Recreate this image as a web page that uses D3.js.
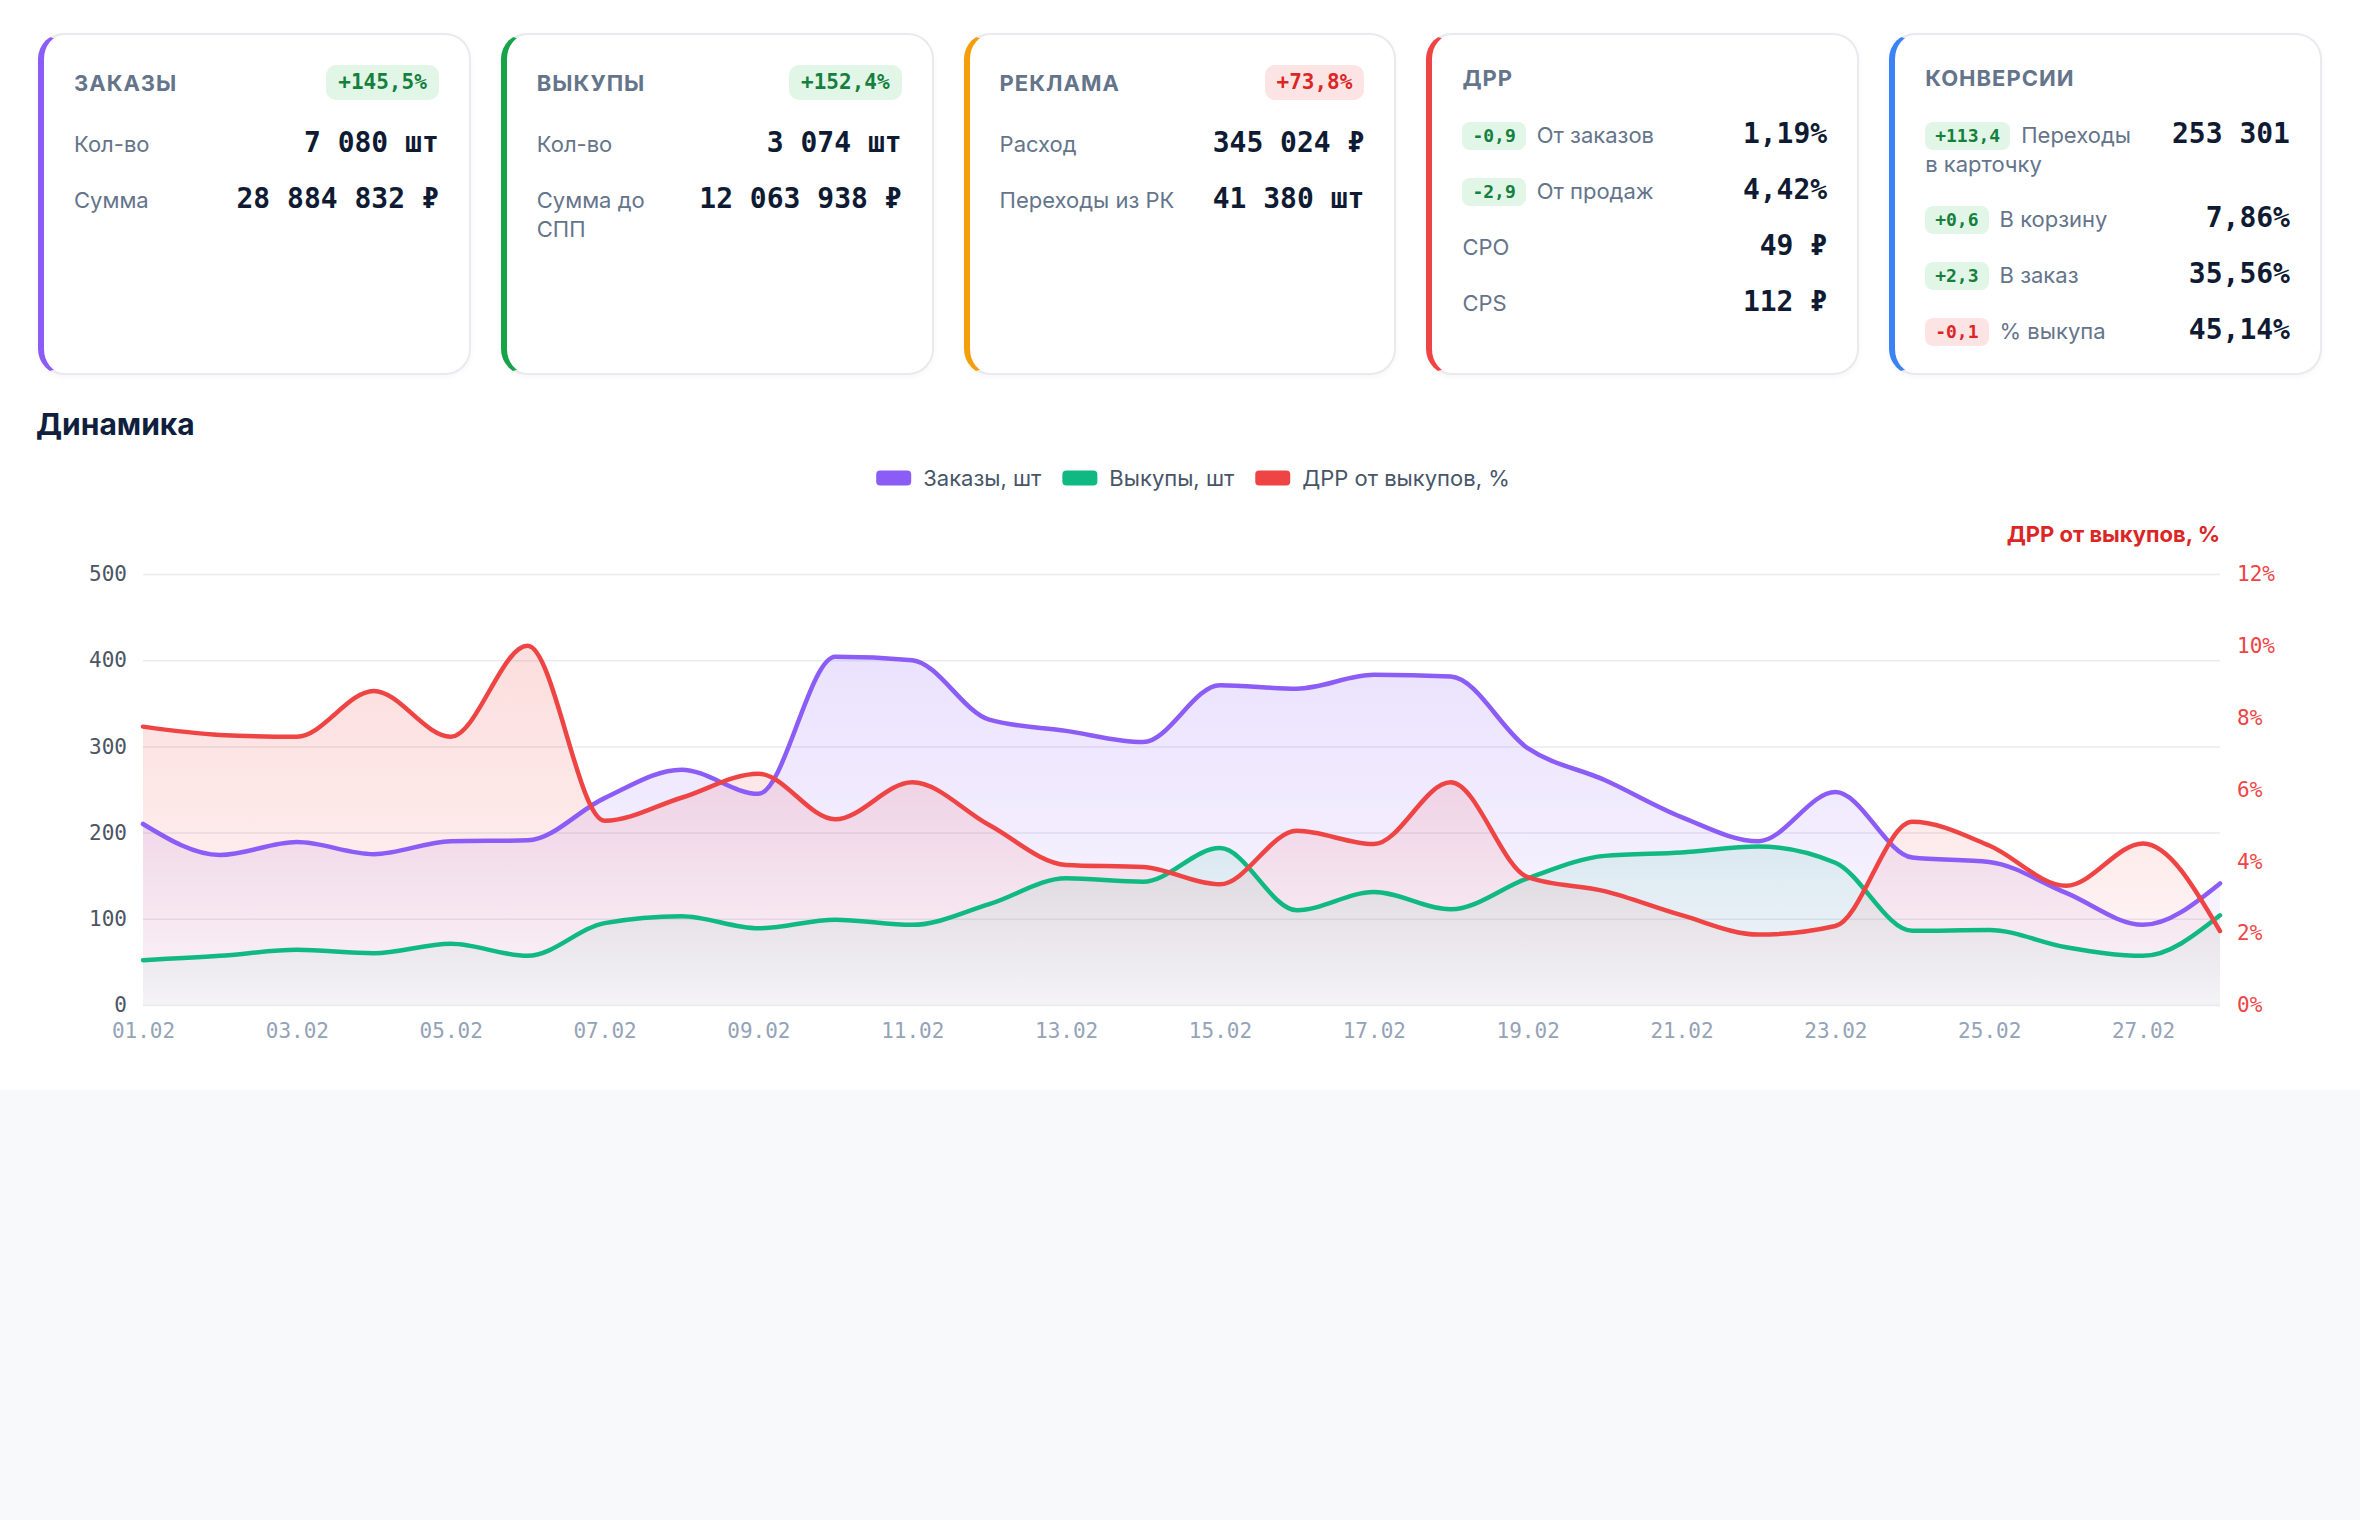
<!DOCTYPE html>
<html>
<head>
<meta charset="utf-8">
<title>Дашборд</title>
<script src="https://d3js.org/d3.v7.min.js"></script>
<style>
  body { margin: 0; background: #f8f9fb; font-family: Inter, "Noto Sans", sans-serif; }
  .page { position: relative; height: 1090px; background: #fff; }
  #cards { position: absolute; top: 33px; left: 38px; right: 38px; height: 342px; display: flex; gap: 30px; }
  .card {
    flex: 1; box-sizing: border-box; background: #fff;
    border: 2px solid #e8eaee; border-left: 6px solid #ccc; border-radius: 26px;
    padding: 30px 30px 28px 30px; box-shadow: 0 2px 6px rgba(15,23,42,0.04);
  }
  .head { display: flex; justify-content: space-between; align-items: center; margin-bottom: 26px; }
  .title { font-weight: 700; font-size: 22px; letter-spacing: 1px; color: #64748b; line-height: 26px; }
  .badge { font-family: "DejaVu Sans Mono", monospace; font-weight: 700; border-radius: 10px; white-space: nowrap; }
  .head .badge { font-size: 21px; line-height: 25px; padding: 5px 12px; }
  .row .badge { display: inline-block; font-size: 18px; line-height: 24px; padding: 2px 10px; border-radius: 8px; margin-right: 11px; vertical-align: 1px; }
  .good { background: #e2f6e8; color: #15803d; }
  .bad { background: #fde4e4; color: #dc2626; }
  .row { display: flex; justify-content: space-between; align-items: baseline; gap: 30px; margin-bottom: 22px; }
  .label { font-size: 22px; line-height: 29px; color: #64748b; }
  .value { font-family: "DejaVu Sans Mono", monospace; font-weight: 700; font-size: 28px; line-height: 34px; color: #0f1b33; white-space: nowrap; }
  .heading { position: absolute; margin: 0; left: 36px; top: 407px; font-size: 30px; line-height: 34px; font-weight: 700; color: #0f1f3d; }
  #chart { position: absolute; left: 0; top: 440px; }
  .tick text { font-family: "DejaVu Sans Mono", monospace; font-size: 21px; }
</style>
</head>
<body>
<div class="page">
  <div id="cards"></div>
  <h2 class="heading">Динамика</h2>
  <svg id="chart" width="2360" height="650"></svg>
</div>
<script>
// cards
const cardTitles = ["ЗАКАЗЫ", "ВЫКУПЫ", "РЕКЛАМА", "ДРР", "КОНВЕРСИИ"];
const cardColors = ["#8b5cf6", "#16a34a", "#f59e0b", "#ef4444", "#3b82f6"];
const cardBadges = [["+145,5%", "good"], ["+152,4%", "good"], ["+73,8%", "bad"], null, null];
// [label, value, badge, tone]
const cardRows = [
  [["Кол-во", "7 080 шт"], ["Сумма", "28 884 832 ₽"]],
  [["Кол-во", "3 074 шт"], ["Сумма до СПП", "12 063 938 ₽"]],
  [["Расход", "345 024 ₽"], ["Переходы из РК", "41 380 шт"]],
  [["От заказов", "1,19%", "-0,9", "good"], ["От продаж", "4,42%", "-2,9", "good"], ["CPO", "49 ₽"], ["CPS", "112 ₽"]],
  [["Переходы в карточку", "253 301", "+113,4", "good"], ["В корзину", "7,86%", "+0,6", "good"],
   ["В заказ", "35,56%", "+2,3", "good"], ["% выкупа", "45,14%", "-0,1", "bad"]]
];

// chart
const days = ["01.02","02.02","03.02","04.02","05.02","06.02","07.02","08.02","09.02","10.02",
              "11.02","12.02","13.02","14.02","15.02","16.02","17.02","18.02","19.02","20.02",
              "21.02","22.02","23.02","24.02","25.02","26.02","27.02","28.02"];
const orders  = [210,174,189,175,190,191,240,273,245,404,400,331,318,305,371,367,383,381,298,261,218,190,247,171,166,130,93,141];
const buyouts = [52,57,64,60,71,57,95,103,89,99,93,117,147,143,182,110,131,111,147,173,177,184,165,86,87,67,57,104];
const drr     = [7.75,7.52,7.47,8.74,7.47,10.0,5.13,5.77,6.44,5.17,6.2,5.01,3.9,3.84,3.36,4.85,4.48,6.2,3.56,3.17,2.5,1.96,2.2,5.1,4.44,3.32,4.5,2.06];
const seriesNames = ["Заказы, шт", "Выкупы, шт", "ДРР от выкупов, %"];
const seriesColors = ["#8b5cf6", "#10b981", "#ef4444"];
const leftTicks = [0, 100, 200, 300, 400, 500];
const rightTicks = [0, 2, 4, 6, 8, 10, 12];

// ---- cards ----
const cards = d3.select("#cards").selectAll("div.card")
  .data(cardTitles)
  .join("div")
  .attr("class", "card")
  .style("border-left-color", (d, i) => cardColors[i]);

cards.each(function (title, i) {
  const card = d3.select(this);
  const head = card.append("div").attr("class", "head");
  head.append("span").attr("class", "title").text(title);
  if (cardBadges[i]) {
    head.append("span").attr("class", "badge " + cardBadges[i][1]).text(cardBadges[i][0]);
  }
  cardRows[i].forEach(r => {
    const row = card.append("div").attr("class", "row");
    const lab = row.append("span").attr("class", "label");
    if (r[2]) lab.append("span").attr("class", "badge " + r[3]).text(r[2]);
    lab.append("span").text(r[0]);
    row.append("span").attr("class", "value").text(r[1]);
  });
});

// ---- chart ----
const svg = d3.select("#chart");
const plot = { left: 143, right: 2220, top: 134, bottom: 565 };

const x = d3.scalePoint().domain(days).range([plot.left, plot.right]);
const yL = d3.scaleLinear().domain([0, 500]).range([plot.bottom, plot.top]);
const yR = d3.scaleLinear().domain([0, 12]).range([plot.bottom, plot.top]);

// gradients
const defs = svg.append("defs");
seriesColors.forEach((c, i) => {
  const g = defs.append("linearGradient").attr("id", "grad" + i)
    .attr("gradientUnits", "userSpaceOnUse")
    .attr("x1", 0).attr("x2", 0).attr("y1", plot.top).attr("y2", plot.bottom);
  g.append("stop").attr("offset", 0).attr("stop-color", c).attr("stop-opacity", 0.2);
  g.append("stop").attr("offset", 0.5).attr("stop-color", c).attr("stop-opacity", 0.13);
  g.append("stop").attr("offset", 1).attr("stop-color", c).attr("stop-opacity", 0.03);
});

// grid + left axis
const leftAxis = svg.append("g")
  .attr("transform", `translate(${plot.left},0)`)
  .call(d3.axisLeft(yL).tickValues(leftTicks).tickSize(-(plot.right - plot.left)).tickPadding(16));
leftAxis.select(".domain").remove();
leftAxis.selectAll("line").attr("stroke", "#e9ebef").attr("stroke-width", 1.5);
leftAxis.selectAll("text").attr("fill", "#4b5563");

const rightAxis = svg.append("g")
  .attr("transform", `translate(${plot.right},0)`)
  .call(d3.axisRight(yR).tickValues(rightTicks).tickSize(0).tickPadding(17).tickFormat(d => d + "%"));
rightAxis.select(".domain").remove();
rightAxis.selectAll("text").attr("fill", "#ef4444");

const xAxis = svg.append("g")
  .attr("transform", `translate(0,${plot.bottom})`)
  .call(d3.axisBottom(x).tickValues(days.filter((d, i) => i % 2 === 0)).tickSize(0).tickPadding(18));
xAxis.select(".domain").remove();
xAxis.selectAll("text").attr("fill", "#94a3b8");

// series
const series = [
  { values: orders, y: yL },
  { values: buyouts, y: yL },
  { values: drr, y: yR }
];

const areas = svg.append("g");
const lines = svg.append("g");
series.forEach((s, i) => {
  const area = d3.area()
    .x((d, j) => x(days[j]))
    .y0(plot.bottom)
    .y1(d => s.y(d))
    .curve(d3.curveMonotoneX);
  const line = d3.line()
    .x((d, j) => x(days[j]))
    .y(d => s.y(d))
    .curve(d3.curveMonotoneX);
  areas.append("path").datum(s.values).attr("d", area).attr("fill", `url(#grad${i})`);
  lines.append("path").datum(s.values).attr("d", line)
    .attr("fill", "none").attr("stroke", seriesColors[i])
    .attr("stroke-width", 4.5).attr("stroke-linejoin", "round").attr("stroke-linecap", "round");
});

// right axis title
svg.append("text")
  .attr("x", plot.right).attr("y", 94)
  .attr("text-anchor", "end").attr("dominant-baseline", "central")
  .style("font-family", "Inter, sans-serif").style("font-weight", 700).style("font-size", "22px")
  .attr("fill", "#dc2626")
  .text(seriesNames[2]);

// legend
const legend = svg.append("g").attr("transform", "translate(0,38)");
const items = legend.selectAll("g").data(seriesNames).join("g");
items.append("rect").attr("width", 35).attr("height", 15).attr("y", -7.5).attr("rx", 4)
  .attr("fill", (d, i) => seriesColors[i]);
items.append("text").attr("x", 47).attr("dominant-baseline", "central")
  .style("font-family", "Inter, sans-serif").style("font-size", "22px")
  .attr("fill", "#475569").text(d => d);
let widths = [];
items.each(function () { widths.push(47 + d3.select(this).select("text").node().getComputedTextLength()); });
const gap = 21;
const total = d3.sum(widths) + gap * (widths.length - 1);
let cx = 1193 - total / 2;
items.attr("transform", (d, i) => {
  const t = `translate(${cx},0)`;
  cx += widths[i] + gap;
  return t;
});
</script>
</body>
</html>
